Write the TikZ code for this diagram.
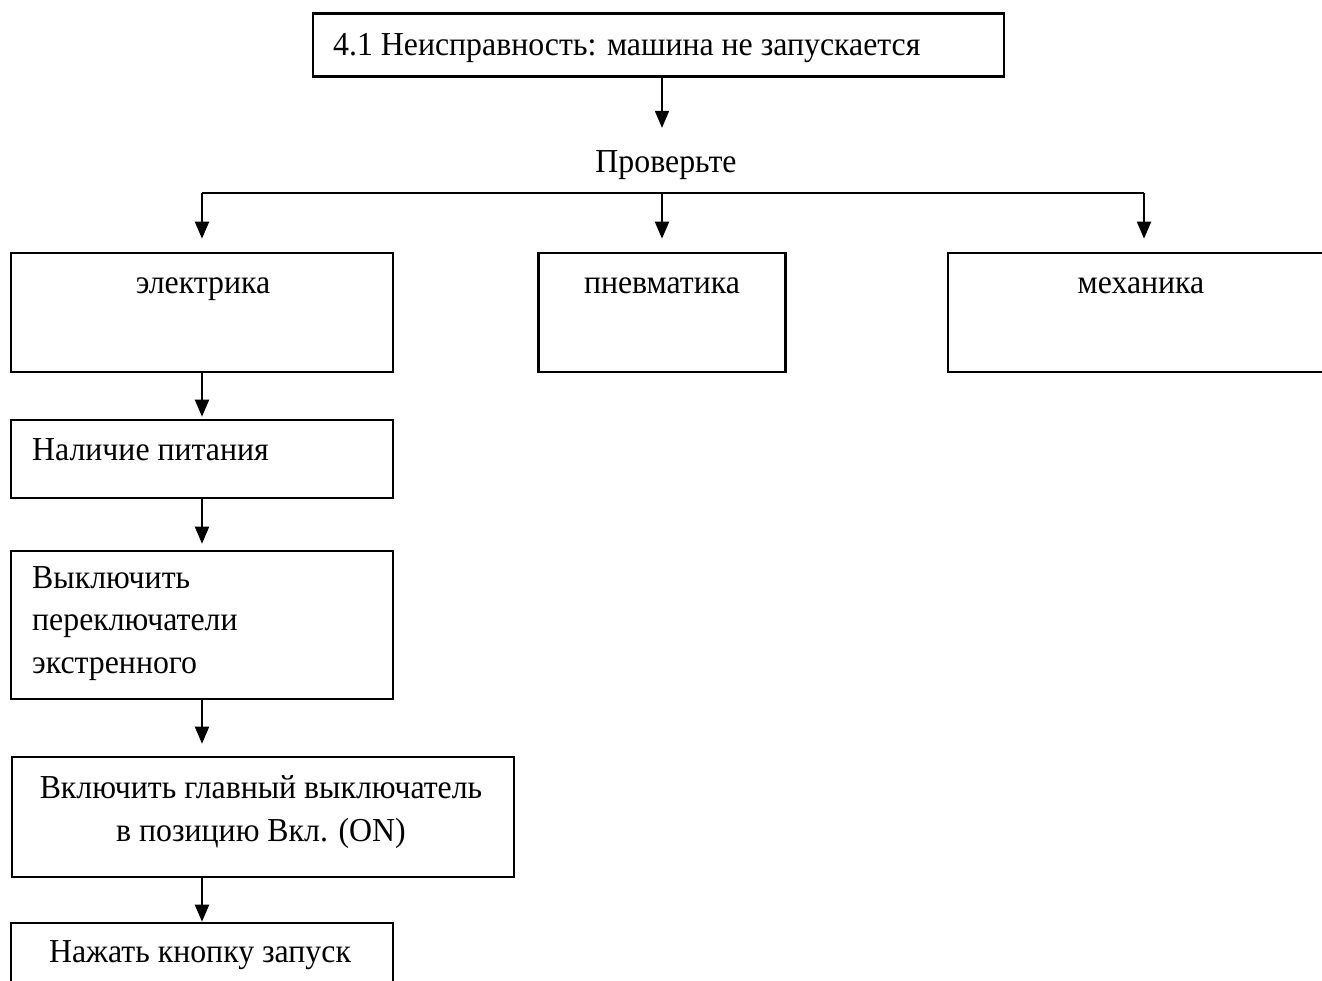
\documentclass[tikz,border=0pt]{standalone}
\usepackage{fontspec}
\setmainfont{Liberation Serif}[FakeStretch=0.95]
\usetikzlibrary{arrows.meta, positioning}
\tikzset{
    box/.style={
        draw,
        rectangle,
        line width=2.6pt,
        inner sep=0pt,
    },
    txt/.style={
        inner sep=0pt,
        font=\fontsize{33.5}{42.5}\selectfont,
    },
    link/.style={
        line width=2pt,
    },
    arr/.style={
        link,
        -{Triangle[width=14pt,length=17pt]},
    }
}

\begin{document}
\begin{tikzpicture}[x=1pt, y=-1pt]
   \useasboundingbox (0,0) rectangle (1322,980);
   \fill[white] (0,0) rectangle (1322,980);
   \clip (0,0) rectangle (1322,980);
   % boxes
   \node[box, minimum width=691pt, minimum height=63pt] (title) at (658.5,45) {};
   \node[box, minimum width=382pt, minimum height=119pt] (el) at (202,312.5) {};
   \node[box, minimum width=247pt, minimum height=119pt] (pn) at (662,312.5) {};
   \node[box, minimum width=392pt, minimum height=119pt] (mech) at (1144,312.5) {};
   \node[box, minimum width=382pt, minimum height=78pt] (nal) at (202,459) {};
   \node[box, minimum width=382pt, minimum height=148pt] (vykl) at (202,625) {};
   \node[box, minimum width=502pt, minimum height=120pt] (vkl) at (263,817) {};
   \node[box, minimum width=382pt, minimum height=80pt] (nazh) at (202,963) {};
   % texts
   \node[txt, anchor=base west] (titletxt) at (333,55) {4.1 Неисправность: машина не запускается};
   \node[txt, anchor=base] (check) at (666,172) {Проверьте};
   \node[txt, anchor=base] (eltxt) at (203,293) {электрика};
   \node[txt, anchor=base] (pntxt) at (662,293) {пневматика};
   \node[txt, anchor=base] (mechtxt) at (1141,293) {механика};
   \node[txt, anchor=base west] (naltxt) at (32,460) {Наличие питания};
   \node[txt, anchor=base west, align=left] (vykltxt) at (32,673) {Выключить\\переключатели\\экстренного};
   \node[txt, anchor=base, align=center] (vkltxt) at (261,841) {Включить главный выключатель\\в позицию Вкл. (ON)};
   \node[txt, anchor=base] (nazhtxt) at (200,962) {Нажать кнопку запуск};
   % connectors
   \coordinate (bus) at (662,193);
   \draw[arr, shorten >=22pt] (title.south -| bus) -- (check.north -| bus);
   \draw[link] (el.north |- bus) -- (mech.north |- bus);
   \foreach \n in {el,pn,mech}
      \draw[arr, shorten >=13pt] (\n.north |- bus) -- (\n.north);
   \draw[arr, shorten >=2pt] (el) -- (nal);
   \draw[arr, shorten >=6pt] (nal) -- (vykl);
   \draw[arr, shorten >=12pt] (vykl.south) -- (vykl.south |- vkl.north);
   \draw[arr] (vkl.south -| nazh.north) -- (nazh.north);
\end{tikzpicture}
\end{document}
